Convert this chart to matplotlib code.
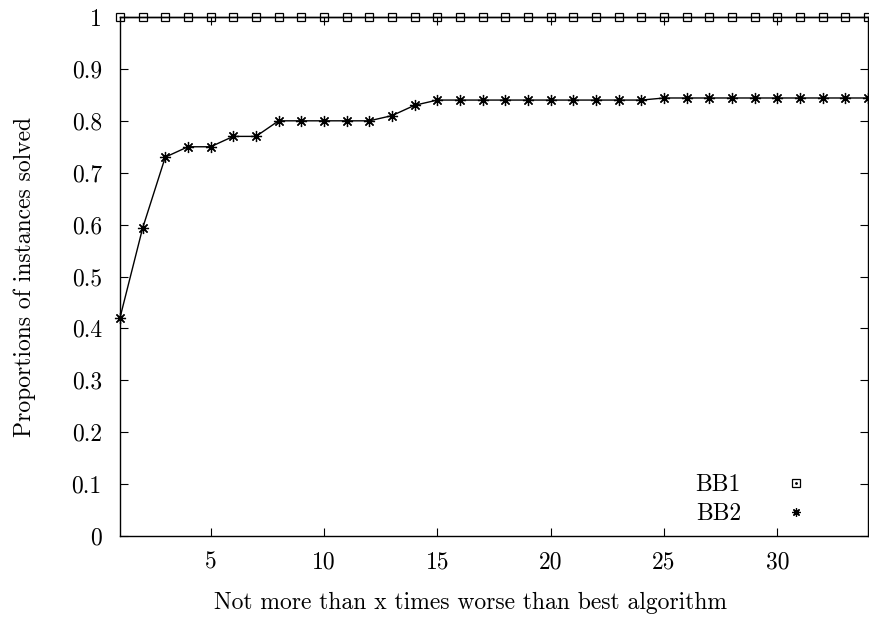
import matplotlib
matplotlib.use("Agg")
import matplotlib.pyplot as plt
from matplotlib.lines import Line2D

plt.rcParams['font.family'] = 'serif'
plt.rcParams['font.serif'] = ['cmr10', 'DejaVu Serif']
plt.rcParams['axes.formatter.use_mathtext'] = True

# Datos
x_vals = list(range(1, 35))
bb1 = [1.0] * 34
bb2 = [0.42, 0.593, 0.73, 0.75, 0.75, 0.77, 0.77, 0.80, 0.80, 0.80,
       0.80, 0.80, 0.81, 0.83, 0.84, 0.84, 0.84, 0.84, 0.84, 0.84,
       0.84, 0.84, 0.84, 0.84, 0.844, 0.844, 0.844, 0.844, 0.844, 0.844,
       0.844, 0.844, 0.844, 0.844]
x_ticks = [5, 10, 15, 20, 25, 30]
y_ticks = [0, 0.1, 0.2, 0.3, 0.4, 0.5, 0.6, 0.7, 0.8, 0.9, 1]
y_labels = ["0", "0.1", "0.2", "0.3", "0.4", "0.5", "0.6", "0.7", "0.8", "0.9", "1"]

FS = 17

fig = plt.figure(figsize=(8.69, 6.17), dpi=100)
ax = fig.add_axes([0.138, 0.1313, 0.861, 0.8411])

asterisk = (8, 2, 0)

ax.plot(x_vals, bb1, color='black', linewidth=1.0, marker='s', markersize=6,
        markerfacecolor='none', markeredgecolor='black', markeredgewidth=0.9,
        clip_on=False, zorder=3)
ax.plot(x_vals, bb2, color='black', linewidth=1.0, marker=asterisk, markersize=8,
        markeredgewidth=0.9, clip_on=False, zorder=3)

ax.set_xlim(1, 34)
ax.set_ylim(0, 1)
ax.set_xticks(x_ticks)
ax.set_xticklabels([str(t) for t in x_ticks])
ax.set_yticks(y_ticks)
ax.set_yticklabels(y_labels)
ax.tick_params(direction='in', top=True, right=True, length=6, width=0.8,
               labelsize=FS)
ax.tick_params(axis='y', pad=13)
ax.tick_params(axis='x', pad=11)
for s in ax.spines.values():
    s.set_linewidth(1.0)

ax.set_xlabel("Not more than x times worse than best algorithm", fontsize=FS)
ax.set_ylabel("Proportions of instances solved", fontsize=FS)
ax.xaxis.set_label_coords(0.469, -0.1407)
ax.xaxis.label.set_va('baseline')
ax.yaxis.set_label_coords(-0.127, 0.5)
ax.yaxis.label.set_va('center')

handles = [
    (Line2D([], [], linestyle='none', marker='s', markersize=5.5, markerfacecolor='none',
            markeredgecolor='black', markeredgewidth=0.9),
     Line2D([], [], linestyle='none', marker='.', markersize=2, color='black')),
    Line2D([], [], linestyle='none', marker=asterisk, markersize=6, color='black',
           markeredgewidth=0.9),
]
ax.legend(handles, ["BB1", "BB2"], loc='lower right', frameon=False, markerfirst=False,
          fontsize=FS, handletextpad=1.6, borderaxespad=0.3, labelspacing=0.3,
          handlelength=1.5, bbox_to_anchor=(0.95, -0.0116))

fig.savefig("out.png", dpi=100)
